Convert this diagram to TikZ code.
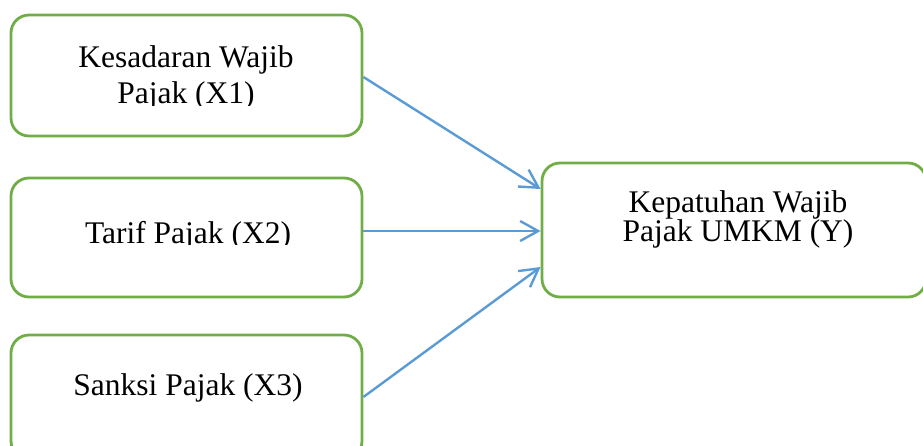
\documentclass[tikz,border=0pt]{standalone}
\usepackage{fontspec}
\setmainfont{Liberation Serif}
\usetikzlibrary{arrows.meta}
\definecolor{boxgreen}{RGB}{112,173,71}
\definecolor{arrowblue}{RGB}{91,155,213}
\begin{document}
\begin{tikzpicture}[x=1pt,y=-1pt,
  box/.style={draw=boxgreen,line width=2.8pt,rounded corners=18pt,inner sep=0pt},
  lbl/.style={font=\fontsize{31.5}{36}\selectfont,inner sep=0pt,anchor=base},
  link/.style={draw=arrowblue,line width=2.4pt,-{Straight Barb[length=18pt,width=20pt]}}]
\useasboundingbox (0,0) rectangle (923,445);
\node[box,minimum width=351pt,minimum height=121pt] (x1) at (186.5,75.5) {};
\node[box,minimum width=351pt,minimum height=119pt] (x2) at (186.5,237.5) {};
\node[box,minimum width=351pt,minimum height=124pt] (x3) at (186.5,397) {};
\node[box,minimum width=384pt,minimum height=134pt] (y) at (734,230) {};
% texts
\node[lbl] (t1a) at (186,67) {Kesadaran Wajib};
\begin{scope}
  \clip (11,0) rectangle (362,105);
  \node[lbl] (t1b) at (186,103) {Pajak (X1)};
\end{scope}
\begin{scope}
  \clip (11,180) rectangle (362,244);
  \node[lbl] (t2) at (188,243) {Tarif Pajak (X2)};
\end{scope}
\node[lbl] (t3) at (188,395) {Sanksi Pajak (X3)};
\node[lbl] (ty1) at (738,212) {Kepatuhan Wajib};
\node[lbl] (ty2) at (738,241) {Pajak UMKM (Y)};
% connectors
\coordinate (e1) at ([yshift=41pt]y.west);
\coordinate (e3) at ([yshift=-37pt]y.west);
\coordinate (s2) at ([yshift=6.5pt]x2.east);
\draw[link] ([yshift=-1.5pt]x1.east) -- (e1);
\draw[link] (s2) -- (s2 -| y.west);
\draw[link] (x3.east) -- (e3);
\end{tikzpicture}
\end{document}
